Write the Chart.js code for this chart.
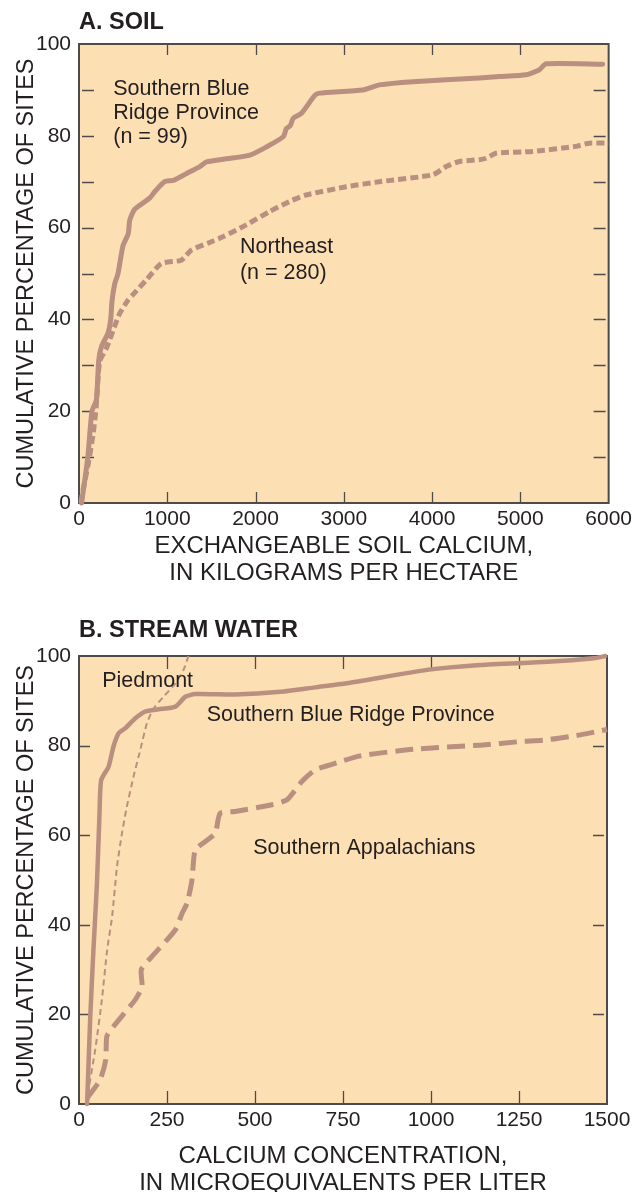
<!DOCTYPE html>
<html>
<head>
<meta charset="utf-8">
<script src="https://cdn.jsdelivr.net/npm/chart.js@4.4.1/dist/chart.umd.min.js"></script>
<style>
  html, body { margin: 0; padding: 0; background: #ffffff; overflow: hidden; width: 636px; height: 1192px; }
  canvas { position: absolute; left: 0; }
  #soil { top: 0; }
  #stream { top: 596px; }
</style>
</head>
<body>
<canvas id="soil" width="636" height="596"></canvas>
<canvas id="stream" width="636" height="604"></canvas>
<script>
// ---------------- DATA ----------------
// Panel A: soil exchangeable calcium (kg/ha) vs cumulative % of sites
const soilSbrX = [30, 100, 147, 197, 223, 253, 328, 359, 374, 405, 442, 498, 558, 575, 631, 800, 857, 970, 1068, 1219, 1370, 1445, 1672, 1936, 2125, 2313, 2350, 2393, 2426, 2520, 2671, 2725, 3215, 3404, 3781, 4536, 4762, 5065, 5216, 5291, 5932];
const soilSbrY = [0, 10, 20, 22.4, 31, 34, 37, 40, 44, 47.8, 50, 56, 58.7, 61.6, 64, 66.4, 67.8, 70, 70.3, 71.8, 73.3, 74.3, 75, 75.8, 77.6, 79.8, 81.6, 82.2, 83.8, 84.9, 88.8, 89.3, 90, 91.1, 91.8, 92.6, 92.9, 93.3, 94.4, 95.7, 95.6];

const soilNeX = [20, 45, 100, 160, 195, 234, 310, 423, 461, 555, 611, 763, 933, 1159, 1272, 1460, 1630, 1895, 2159, 2385, 2574, 3027, 3404, 4008, 4159, 4310, 4536, 4612, 4725, 5140, 5631, 5782, 6000];
const soilNeY = [0, 2.8, 8, 15, 21, 30.8, 33.7, 39.5, 41.3, 44.2, 45.4, 48.6, 52.2, 52.9, 55.1, 56.6, 58, 60.6, 63.5, 65.7, 67.1, 68.9, 70, 71.5, 73.3, 74.4, 74.8, 75.1, 76.2, 76.6, 77.7, 78.4, 78.4];

const soilXTicks = [0, 1000, 2000, 3000, 4000, 5000, 6000];
const soilYTicks = [0, 20, 40, 60, 80, 100];

// Panel B: stream water calcium (microequivalents/L) vs cumulative % of sites
const streamSbrX = [23, 32, 41, 51, 58, 63, 84, 98, 113, 132, 160, 188, 226, 274, 302, 330, 444, 572, 671, 761, 989, 1140, 1330, 1462, 1495];
const streamSbrY = [0, 19.5, 34.4, 49.3, 64.2, 72.3, 75.3, 79.8, 82.8, 83.9, 86.1, 87.6, 88.1, 88.7, 90.9, 91.5, 91.4, 92, 93, 93.9, 96.9, 98, 98.7, 99.5, 100];

const streamPiedX = [20, 46, 65, 80, 94, 108, 122, 136, 155, 174, 193, 212, 240, 274, 297, 311];
const streamPiedY = [0, 12.1, 23.3, 34.4, 41.8, 53, 60.4, 66.4, 73.1, 79, 85, 88.3, 90.9, 93.9, 96.9, 100];

const streamAppX = [23, 60, 76, 79, 98, 160, 179, 177, 207, 274, 293, 307, 321, 330, 359, 387, 401, 444, 548, 591, 633, 671, 714, 799, 951, 1140, 1254, 1330, 1424, 1500];
const streamAppY = [1.3, 5.4, 9.9, 15.1, 17.3, 23.3, 26.2, 30, 32.9, 38.9, 42.6, 44.8, 50, 56.7, 58.6, 60.4, 64.9, 65.3, 66.8, 67.9, 72, 74.6, 75.7, 77.7, 79.2, 80.1, 80.9, 81.3, 82.4, 83.6];

const streamXTicks = [0, 250, 500, 750, 1000, 1250, 1500];
const streamYTicks = [0, 20, 40, 60, 80, 100];

// ---------------- STYLE ----------------
const FONT = "'Liberation Sans', Arial, Helvetica, sans-serif";
const TEXT = '#231f20';
const BG = '#fddfb4';
const LINE = '#b98f80';
const FRAME = '#4f4b4a';

Chart.defaults.font.family = FONT;
Chart.defaults.color = TEXT;

const pts = (xs, ys) => xs.map((x, i) => ({ x: x, y: ys[i] }));

const framePlugin = {
  id: 'frame',
  beforeDraw(chart, args, o) {
    const { ctx, chartArea: a } = chart;
    ctx.save();
    ctx.fillStyle = BG;
    ctx.fillRect(a.left, a.top, a.right - a.left, a.bottom - a.top);
    ctx.restore();
  },
  beforeDatasetsDraw(chart, args, o) {
    const { ctx, chartArea: a, scales } = chart;
    const xs = scales.x, ys = scales.y;
    ctx.save();
    ctx.strokeStyle = FRAME;
    ctx.lineWidth = 1.3;
    ctx.beginPath();
    o.xMarks.forEach(v => {
      const p = Math.round(xs.getPixelForValue(v)) + 0.5;
      ctx.moveTo(p, a.top); ctx.lineTo(p, a.top + o.tlX);
      ctx.moveTo(p, a.bottom); ctx.lineTo(p, a.bottom - o.tlX);
    });
    o.yMarks.forEach(v => {
      const p = Math.round(ys.getPixelForValue(v)) + 0.5;
      ctx.moveTo(a.left + o.gapL, p); ctx.lineTo(a.left + o.gapL + o.tlY, p);
      ctx.moveTo(a.right - o.gapR, p); ctx.lineTo(a.right - o.gapR - o.tlY, p);
    });
    ctx.stroke();
    ctx.lineWidth = 2;
    ctx.strokeRect(a.left, a.top, a.right - a.left, a.bottom - a.top);
    ctx.restore();
  },
  afterDatasetsDraw(chart, args, o) {
    const { ctx, scales } = chart;
    ctx.save();
    ctx.fillStyle = TEXT;
    ctx.font = o.labelFont;
    ctx.textAlign = 'left';
    ctx.textBaseline = 'middle';
    o.labels.forEach(l => {
      const px = scales.x.getPixelForValue(l.x);
      const py = scales.y.getPixelForValue(l.y);
      l.lines.forEach((t, i) => ctx.fillText(t, px, py + i * l.gap));
    });
    ctx.restore();
  }
};

function makeScales(xTickList, yTickList, xMax, xTitle, xAxisH, xTitlePadB) {
  return {
    x: {
      type: 'linear', min: 0, max: xMax,
      afterBuildTicks: s => { s.ticks = xTickList.map(v => ({ value: v })); },
      grid: { display: false, drawTicks: false },
      border: { display: false },
      ticks: { font: { size: 21 }, color: TEXT, padding: 4, maxRotation: 0, autoSkip: false, callback: v => String(v) },
      title: { display: true, text: xTitle, color: TEXT, font: { size: 24, lineHeight: 27 / 24 }, padding: { top: 0, bottom: xTitlePadB } },
      afterFit: s => { s.height = xAxisH; }
    },
    y: {
      type: 'linear', min: 0, max: 100,
      afterBuildTicks: s => { s.ticks = yTickList.map(v => ({ value: v })); },
      grid: { display: false, drawTicks: false },
      border: { display: false },
      ticks: { font: { size: 21 }, color: TEXT, padding: 8, callback: v => String(v) },
      title: { display: true, text: 'CUMULATIVE PERCENTAGE OF SITES', color: TEXT, font: { size: 23.5 }, padding: { top: 12.9, bottom: 0 } },
      afterFit: s => { s.width = 79; }
    }
  };
}

// ---------------- CHART A ----------------
new Chart(document.getElementById('soil'), {
  type: 'scatter',
  data: {
    datasets: [
      { label: 'Southern Blue Ridge Province', data: pts(soilSbrX, soilSbrY), showLine: true, borderColor: LINE, borderWidth: 5, pointRadius: 0, tension: 0.2, borderJoinStyle: 'round', borderCapStyle: 'round', clip: false },
      { label: 'Northeast', data: pts(soilNeX, soilNeY), showLine: true, borderColor: LINE, borderWidth: 5, borderDash: [8, 4], pointRadius: 0, tension: 0.2, borderCapStyle: 'butt', clip: false }
    ]
  },
  options: {
    responsive: false, animation: false, devicePixelRatio: 1,
    layout: { padding: { top: 0, left: 0, right: 27, bottom: 0 } },
    scales: makeScales(soilXTicks, soilYTicks, 6000, ['EXCHANGEABLE SOIL CALCIUM,', 'IN KILOGRAMS PER HECTARE'], 93, 9.5),
    plugins: {
      legend: { display: false },
      tooltip: { enabled: false },
      title: { display: true, text: 'A. SOIL', align: 'start', fullSize: false, color: TEXT, font: { size: 23.5, weight: 'bold', lineHeight: 1.2 }, padding: { top: 8.7, bottom: 7.1 } },
      frame: {
        xMarks: [1000, 2000, 3000, 4000, 5000],
        yMarks: [10, 20, 30, 40, 50, 60, 70, 80, 90],
        tlX: 11, tlY: 12, gapL: 3, gapR: 3,
        labelFont: "21.5px " + FONT,
        labels: [
          { x: 388, y: 90.1, gap: 24, lines: ['Southern Blue', 'Ridge Province', '(n = 99)'] },
          { x: 1823, y: 55.8, gap: 26, lines: ['Northeast', '(n = 280)'] }
        ]
      }
    }
  },
  plugins: [framePlugin]
});

// ---------------- CHART B ----------------
new Chart(document.getElementById('stream'), {
  type: 'scatter',
  data: {
    datasets: [
      { label: 'Southern Blue Ridge Province', data: pts(streamSbrX, streamSbrY), showLine: true, borderColor: LINE, borderWidth: 4.5, pointRadius: 0, tension: 0.2, borderJoinStyle: 'round', borderCapStyle: 'round', clip: false },
      { label: 'Piedmont', data: pts(streamPiedX, streamPiedY), showLine: true, borderColor: LINE, borderWidth: 2, borderDash: [6, 4], pointRadius: 0, tension: 0.2, borderCapStyle: 'butt', clip: false },
      { label: 'Southern Appalachians', data: pts(streamAppX, streamAppY), showLine: true, borderColor: LINE, borderWidth: 5, borderDash: [18, 8], pointRadius: 0, tension: 0.2, borderCapStyle: 'butt', clip: false }
    ]
  },
  options: {
    responsive: false, animation: false, devicePixelRatio: 1,
    layout: { padding: { top: 0, left: 0, right: 29, bottom: 0 } },
    scales: makeScales(streamXTicks, streamYTicks, 1500, ['CALCIUM CONCENTRATION,', 'IN MICROEQUIVALENTS PER LITER'], 96, 3.5),
    plugins: {
      legend: { display: false },
      tooltip: { enabled: false },
      title: { display: true, text: 'B. STREAM WATER', align: 'start', fullSize: false, color: TEXT, font: { size: 23.5, weight: 'bold', lineHeight: 1.2 }, padding: { top: 20.7, bottom: 11.1 } },
      frame: {
        xMarks: [250, 500, 750, 1000, 1250],
        yMarks: [20, 40, 60, 80],
        tlX: 13, tlY: 11, gapL: 0, gapR: 3,
        labelFont: "21.5px " + FONT,
        labels: [
          { x: 66, y: 94.3, gap: 24, lines: ['Piedmont'] },
          { x: 363, y: 86.8, gap: 24, lines: ['Southern Blue Ridge Province'] },
          { x: 495, y: 57.1, gap: 24, lines: ['Southern Appalachians'] }
        ]
      }
    }
  },
  plugins: [framePlugin]
});
</script>
</body>
</html>
